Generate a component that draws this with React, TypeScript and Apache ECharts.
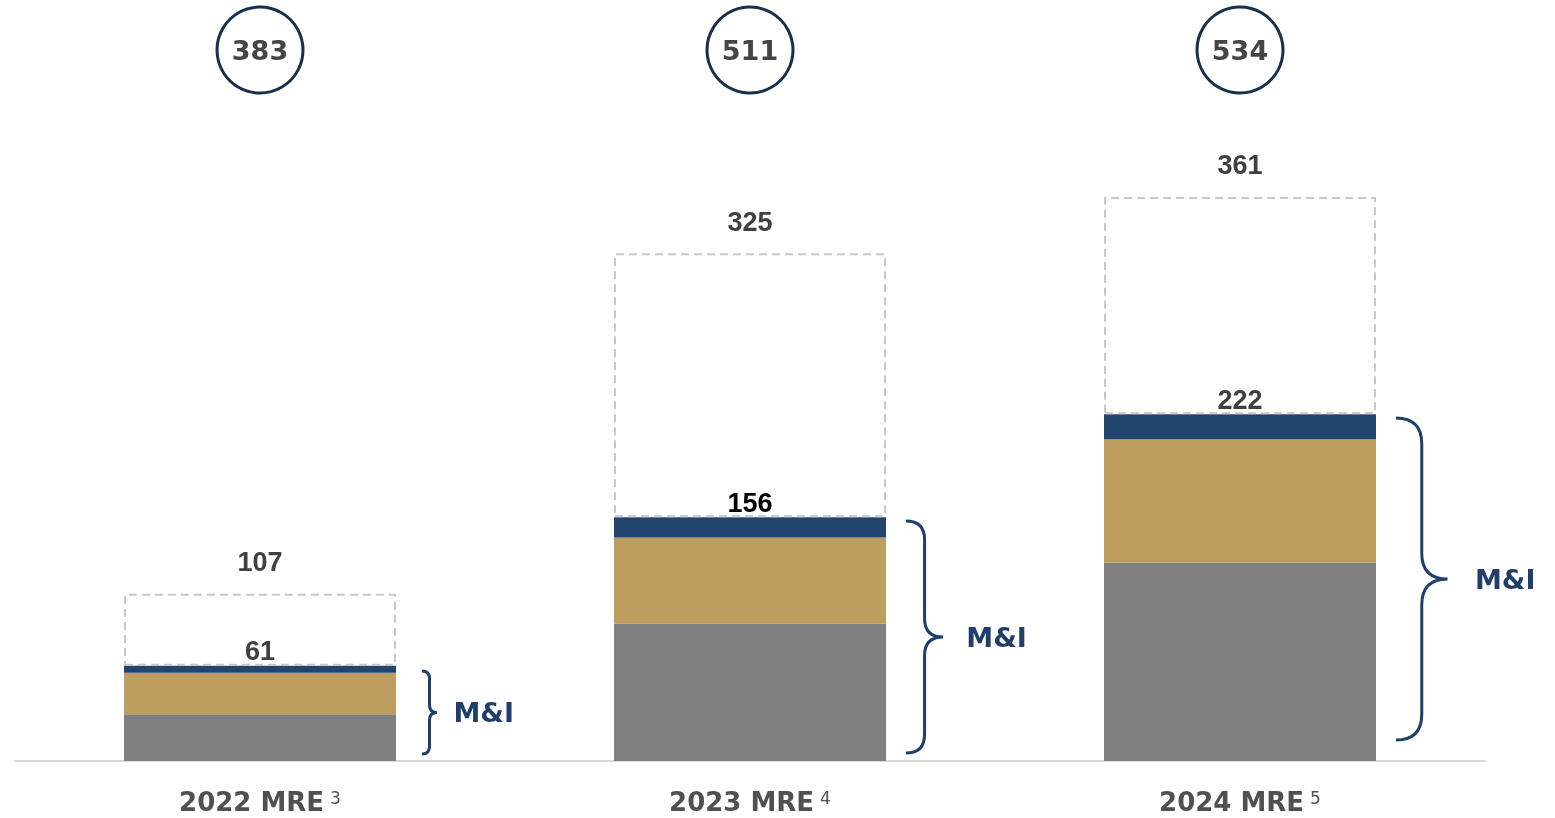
import React, { useEffect, useRef } from "react";
import * as echarts from "echarts";

const categories = ["2022 MRE", "2023 MRE", "2024 MRE"];
const footnotes = ["3", "4", "5"];
const grayValues = [30, 88, 127];
const goldValues = [26.5, 55, 79];
const navyValues = [4.5, 13, 16];
const solidTotals = [61, 156, 222];
const dashedTotals = [107, 325, 361];
const circleTotals = [383, 511, 534];
const braceLow = [4.5, 5.1, 13.4];
const braceHigh = [57.6, 153.6, 219.5];
const braceLabel = "M&I";

const NAVY = "#21456f";
const BRACE = "#1f3f6a";
const solidLabelColors = ["#404040", "#000000", "#404040"];

export default function App() {
  const ref = useRef<HTMLDivElement>(null);
  useEffect(() => {
    document.body.style.margin = "0";
    const chart = echarts.init(ref.current!, null, { renderer: "svg" });
    const remaining = dashedTotals.map((t, i) => +(t - solidTotals[i]).toFixed(2));
    const option: any = {
      animation: false,
      grid: { left: 15, right: 70, top: 11, bottom: 57 },
      xAxis: {
        type: "category",
        data: categories,
        axisLine: { show: true, lineStyle: { color: "#d9d9d9", width: 2 } },
        axisTick: { show: false },
        axisLabel: {
          margin: 28,
          formatter: (v: string, i: number) => `{a|${v}}{s|${footnotes[i]}}`,
          rich: {
            a: { fontFamily: "DejaVu Sans", fontWeight: "bold", fontSize: 26, color: "#505050", lineHeight: 26 },
            s: { fontFamily: "DejaVu Sans", fontSize: 17, color: "#505050", lineHeight: 17, padding: [0, 0, 0, 6], verticalAlign: "top" },
          },
        },
      },
      yAxis: { type: "value", min: 0, max: 480, show: false, splitLine: { show: false } },
      series: [
        {
          type: "bar", stack: "s", data: grayValues, barWidth: 272,
          itemStyle: { color: "#808080" },
        },
        {
          type: "bar", stack: "s", data: goldValues,
          itemStyle: { color: "#bd9e5e" },
        },
        {
          type: "bar", stack: "s",
          data: navyValues.map((v, i) => ({ value: v, label: { color: solidLabelColors[i] } })),
          itemStyle: { color: NAVY },
          label: {
            show: true, position: "top", distance: 1,
            formatter: (p: any) => String(solidTotals[p.dataIndex]),
            fontFamily: "Liberation Sans", fontWeight: "bold", fontSize: 27,
            color: "#404040",
          },
        },
        {
          type: "bar", stack: "s",
          data: remaining.map((v) => ({ value: v })),
          itemStyle: { color: "rgba(0,0,0,0)", borderColor: "#c8c8c8", borderWidth: 2, borderType: [8, 5] },
          label: {
            show: true, position: "top", distance: 18,
            formatter: (p: any) => String(dashedTotals[p.dataIndex]),
            fontFamily: "Liberation Sans", fontWeight: "bold", fontSize: 27,
            color: "#404040",
          },
          z: 3,
        },
        {
          type: "scatter",
          data: categories.map((c) => [c, 455]),
          symbol: "circle", symbolSize: 86,
          itemStyle: { color: "#ffffff", borderColor: "#1b2f4d", borderWidth: 3, opacity: 1 },
          label: {
            show: true, position: "inside",
            formatter: (p: any) => String(circleTotals[p.dataIndex]),
            fontFamily: "DejaVu Sans", fontWeight: "bold", fontSize: 27, color: "#454545",
          },
          z: 5,
        },
        {
          type: "custom",
          data: categories.map((c, i) => [i, braceLow[i], braceHigh[i]]),
          renderItem: (params: any, api: any) => {
            const idx = api.value(0);
            const top = api.coord([idx, api.value(2)]);
            const bot = api.coord([idx, api.value(1)]);
            const bw = 272;
            const t = top[1];
            const b = bot[1];
            const m = (t + b) / 2;
            const h = b - t;
            const r = Math.max(h * 0.08, 7.5);
            const x0 = top[0] + bw / 2 + 20 + (h < 120 ? 6 : 0);
            const d = `M${x0} ${t} Q${x0 + r} ${t} ${x0 + r} ${t + r} L${x0 + r} ${m - r} Q${x0 + r} ${m} ${x0 + 2 * r} ${m} Q${x0 + r} ${m} ${x0 + r} ${m + r} L${x0 + r} ${b - r} Q${x0 + r} ${b} ${x0} ${b}`;
            return {
              type: "group",
              children: [
                {
                  type: "path",
                  shape: { pathData: d },
                  style: { fill: "none", stroke: BRACE, lineWidth: 3 },
                },
                {
                  type: "text",
                  x: x0 + 2 * r + 12 + r * 0.6,
                  y: m,
                  style: {
                    text: braceLabel, fontFamily: "DejaVu Sans", fontWeight: "bold", fontSize: 27,
                    fill: BRACE, verticalAlign: "middle", align: "left",
                  },
                },
              ],
            };
          },
          z: 4,
        },
      ],
    };
    chart.setOption(option);
    return () => chart.dispose();
  }, []);
  return <div ref={ref} style={{ position: "fixed", left: 0, top: 0, width: 1555, height: 818 }} />;
}
